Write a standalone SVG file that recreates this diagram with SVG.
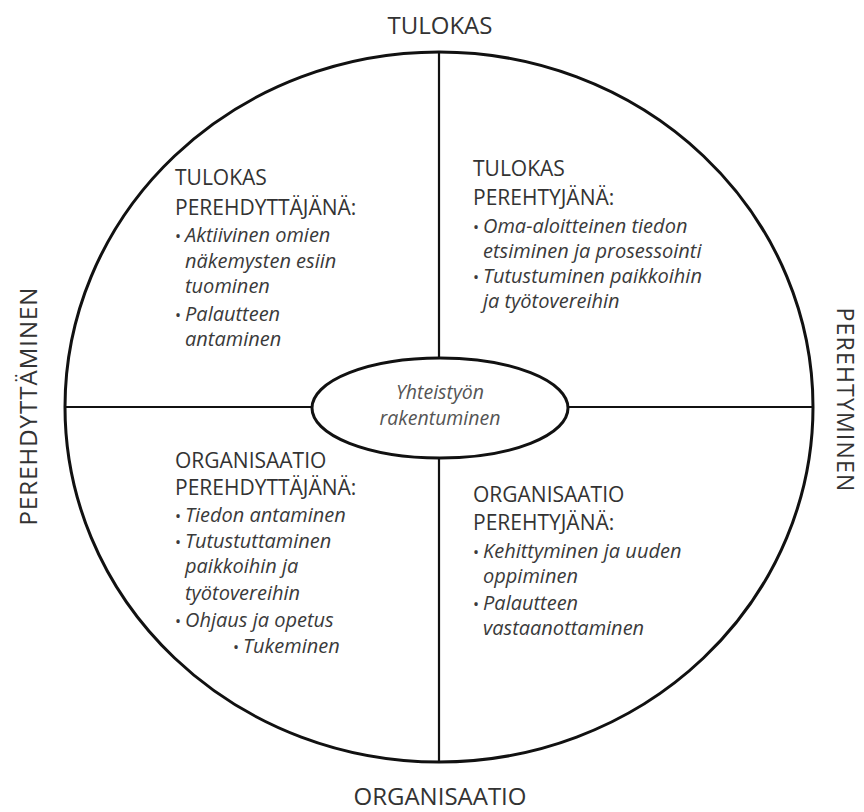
<svg xmlns="http://www.w3.org/2000/svg" width="864" height="812" viewBox="0 0 864 812">
<style>
.o{font-family:"Open Sans","Liberation Sans",sans-serif;font-size:24px;fill:#333}
.h{font-family:"Open Sans","Liberation Sans",sans-serif;font-size:21px;fill:#333}
.i{font-family:"Open Sans","Liberation Sans",sans-serif;font-size:20px;font-style:italic;fill:#3a3a3a}
.b{font-style:normal;font-size:16px}
.ln{stroke:#111;stroke-width:2.2;fill:none}
.el{stroke:#111;stroke-width:3;fill:#fff}
</style>
<rect width="864" height="812" fill="#fff"/>
<g id="outer">
<ellipse cx="439" cy="407" rx="374" ry="355" class="el"/>
</g>
<g id="connectors">
<line x1="439" y1="51" x2="439" y2="358" class="ln"/>
<line x1="439" y1="458" x2="439" y2="762" class="ln"/>
<line x1="65" y1="407" x2="312" y2="407" class="ln"/>
<line x1="568" y1="407" x2="813" y2="407" class="ln"/>
</g>
<g id="center">
<ellipse cx="440" cy="408" rx="128" ry="50" class="el"/>
<text x="440" y="399" text-anchor="middle" class="i" style="font-size:19.5px;fill:#555">Yhteistyön</text>
<text x="440" y="425" text-anchor="middle" class="i" style="font-size:19.5px;fill:#555">rakentuminen</text>
</g>
<g id="label-top"><text x="440" y="34" text-anchor="middle" class="o">TULOKAS</text></g>
<g id="label-bottom"><text x="440" y="805" text-anchor="middle" class="o">ORGANISAATIO</text></g>
<g id="label-left"><text transform="translate(37,406) rotate(-90)" text-anchor="middle" class="o" letter-spacing="1">PEREHDYTTÄMINEN</text></g>
<g id="label-right"><text transform="translate(837,400) rotate(90)" text-anchor="middle" class="o" style="font-size:23px" letter-spacing="1.2">PEREHTYMINEN</text></g>
<g id="q-tl">
<text x="175" y="185" class="h">TULOKAS</text>
<text x="175" y="215" class="h">PEREHDYTTÄJÄNÄ:</text>
<text x="175" y="242" class="i"><tspan class="b">•</tspan><tspan x="185">Aktiivinen omien</tspan></text>
<text x="185" y="268" class="i">näkemysten esiin</text>
<text x="185" y="293" class="i">tuominen</text>
<text x="175" y="321" class="i"><tspan class="b">•</tspan><tspan x="185">Palautteen</tspan></text>
<text x="185" y="346" class="i">antaminen</text>
</g>
<g id="q-tr">
<text x="473" y="176" class="h">TULOKAS</text>
<text x="473" y="205" class="h">PEREHTYJÄNÄ:</text>
<text x="473" y="233" class="i"><tspan class="b">•</tspan><tspan x="483">Oma-aloitteinen tiedon</tspan></text>
<text x="483" y="258" class="i">etsiminen ja prosessointi</text>
<text x="473" y="283" class="i"><tspan class="b">•</tspan><tspan x="483">Tutustuminen paikkoihin</tspan></text>
<text x="483" y="308" class="i">ja työtovereihin</text>
</g>
<g id="q-bl">
<text x="175" y="468" class="h">ORGANISAATIO</text>
<text x="175" y="495" class="h">PEREHDYTTÄJÄNÄ:</text>
<text x="175" y="522" class="i"><tspan class="b">•</tspan><tspan x="185">Tiedon antaminen</tspan></text>
<text x="175" y="548" class="i"><tspan class="b">•</tspan><tspan x="185">Tutustuttaminen</tspan></text>
<text x="185" y="573" class="i">paikkoihin ja</text>
<text x="185" y="600" class="i">työtovereihin</text>
<text x="175" y="627" class="i"><tspan class="b">•</tspan><tspan x="185">Ohjaus ja opetus</tspan></text>
<text x="233" y="653" class="i"><tspan class="b">•</tspan><tspan x="243">Tukeminen</tspan></text>
</g>
<g id="q-br">
<text x="473" y="502" class="h">ORGANISAATIO</text>
<text x="473" y="530" class="h">PEREHTYJÄNÄ:</text>
<text x="473" y="558" class="i"><tspan class="b">•</tspan><tspan x="483">Kehittyminen ja uuden</tspan></text>
<text x="483" y="583" class="i">oppiminen</text>
<text x="473" y="610" class="i"><tspan class="b">•</tspan><tspan x="483">Palautteen</tspan></text>
<text x="483" y="635" class="i">vastaanottaminen</text>
</g>
</svg>
